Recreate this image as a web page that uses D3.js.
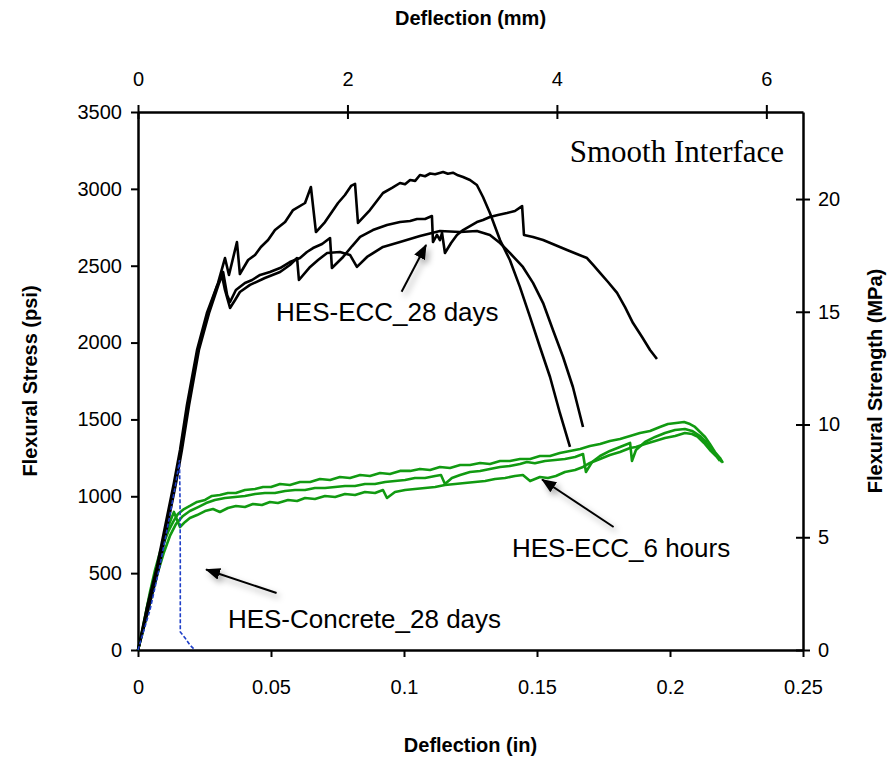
<!DOCTYPE html>
<html>
<head>
<meta charset="utf-8">
<script src="https://cdn.jsdelivr.net/npm/d3@7"></script>
<style>
  body { margin: 0; background: #fff; }
  svg text { font-family: "Liberation Sans", Arial, sans-serif; }
  svg text.serif { font-family: "Liberation Serif", "Times New Roman", serif; }
</style>
</head>
<body>
<div id="chart"></div>
<script>
// chart size
const width = 893;
const height = 765;
const margin = { top: 112, right: 90, bottom: 115, left: 138 };
const W = width - margin.left - margin.right;
const H = height - margin.top - margin.bottom;

// tick values
const xTicks = [0, 0.05, 0.1, 0.15, 0.2, 0.25];
const xTopTicks = [0, 2, 4, 6];
const yTicks = [0, 500, 1000, 1500, 2000, 2500, 3000, 3500];
const yRightTicks = [0, 5, 10, 15, 20];

// HES-ECC_28 days, three specimens [deflection in, stress psi]
const ecc28a = [
  [0, 0], [0.0038, 280], [0.0075, 540], [0.0113, 865], [0.0139, 1086], [0.0162, 1301],
  [0.0188, 1594], [0.0226, 1952], [0.0263, 2192], [0.0301, 2388], [0.0327, 2550],
  [0.0342, 2440], [0.0372, 2654], [0.0383, 2446], [0.0414, 2537], [0.044, 2570],
  [0.0462, 2622], [0.0489, 2667], [0.0515, 2732], [0.0553, 2784], [0.0583, 2862],
  [0.0628, 2908], [0.065, 3012], [0.0669, 2719], [0.0703, 2784], [0.0752, 2908],
  [0.0778, 2960], [0.0801, 3019], [0.0816, 3032], [0.0827, 2778], [0.0872, 2862],
  [0.0921, 2973], [0.0955, 3006], [0.0985, 3038], [0.1004, 3030], [0.1023, 3058],
  [0.1042, 3052], [0.106, 3090], [0.1079, 3082], [0.1098, 3100], [0.1117, 3095],
  [0.1147, 3110], [0.1165, 3098], [0.1184, 3105], [0.1203, 3088], [0.1222, 3077],
  [0.1248, 3058], [0.1274, 3025], [0.1297, 2947], [0.1323, 2843], [0.1361, 2667],
  [0.1398, 2537], [0.1436, 2361], [0.1474, 2166], [0.1511, 1971], [0.1549, 1776],
  [0.1586, 1542], [0.1624, 1321]
];
const ecc28b = [
  [0, 0], [0.0041, 280], [0.0079, 540], [0.0117, 865], [0.0143, 1086], [0.0165, 1301],
  [0.0192, 1594], [0.0229, 1952], [0.0267, 2192], [0.0305, 2388], [0.032, 2459],
  [0.0335, 2310], [0.0346, 2264], [0.0368, 2342], [0.0402, 2388], [0.0429, 2407],
  [0.0459, 2440], [0.0496, 2459], [0.0534, 2485], [0.0571, 2524], [0.0609, 2550],
  [0.0635, 2589], [0.0658, 2615], [0.0692, 2641], [0.0722, 2680], [0.0729, 2485],
  [0.0771, 2557], [0.0805, 2628], [0.0835, 2687], [0.0883, 2732], [0.0936, 2765],
  [0.0985, 2784], [0.1023, 2791], [0.1049, 2804], [0.1079, 2804], [0.1105, 2823],
  [0.1109, 2654], [0.1124, 2700], [0.1135, 2667], [0.1143, 2713], [0.1154, 2583],
  [0.1177, 2648], [0.1199, 2700], [0.1222, 2732], [0.1248, 2758], [0.1274, 2784],
  [0.1297, 2797], [0.1323, 2817], [0.1353, 2830], [0.1387, 2843], [0.1417, 2856],
  [0.1444, 2888], [0.1451, 2700], [0.1485, 2687], [0.1523, 2667], [0.1568, 2635],
  [0.1613, 2602], [0.165, 2576], [0.1688, 2550], [0.1711, 2505], [0.1737, 2453],
  [0.1767, 2394], [0.1801, 2323], [0.1831, 2231], [0.1861, 2127], [0.1895, 2036],
  [0.1925, 1952], [0.1951, 1893]
];
const ecc28c = [
  [0, 0], [0.0034, 280], [0.0071, 540], [0.0109, 865], [0.0135, 1086], [0.0158, 1301],
  [0.0184, 1594], [0.0222, 1952], [0.0259, 2192], [0.0297, 2368], [0.0316, 2433],
  [0.0327, 2342], [0.0346, 2225], [0.0365, 2277], [0.0383, 2329], [0.0421, 2375],
  [0.0477, 2420], [0.0534, 2459], [0.0571, 2505], [0.0598, 2550], [0.0605, 2407],
  [0.0647, 2492], [0.0677, 2537], [0.0711, 2583], [0.0759, 2589], [0.0797, 2570],
  [0.0823, 2492], [0.0861, 2557], [0.0921, 2622], [0.0985, 2654], [0.106, 2693],
  [0.1135, 2726], [0.1211, 2719], [0.1274, 2726], [0.1323, 2700], [0.1361, 2648],
  [0.1398, 2583], [0.1447, 2492], [0.1485, 2388], [0.1523, 2257], [0.156, 2082],
  [0.1598, 1906], [0.1635, 1711], [0.1673, 1451]
];

// HES-ECC_6 hours, three specimens
const ecc6a = [
  [0, 0], [0.0019, 143], [0.0038, 306], [0.0056, 442], [0.0075, 572], [0.0094, 683],
  [0.0113, 768], [0.0132, 833], [0.015, 885], [0.0173, 917], [0.0195, 937], [0.0222, 963],
  [0.0252, 976], [0.0278, 1002], [0.0308, 1008], [0.0338, 1021], [0.0368, 1021],
  [0.0402, 1041], [0.044, 1047], [0.047, 1060], [0.05, 1060], [0.0534, 1080], [0.0571, 1073],
  [0.0609, 1093], [0.0647, 1093], [0.0684, 1112], [0.0722, 1106], [0.0759, 1125],
  [0.0797, 1119], [0.0835, 1138], [0.0872, 1132], [0.091, 1151], [0.0947, 1145],
  [0.0985, 1165], [0.1023, 1165], [0.106, 1178], [0.1098, 1171], [0.1135, 1191],
  [0.1173, 1184], [0.1211, 1204], [0.1248, 1204], [0.1286, 1217], [0.1323, 1210],
  [0.1361, 1230], [0.1398, 1230], [0.1436, 1243], [0.1474, 1243], [0.1511, 1262],
  [0.1549, 1262], [0.1586, 1282], [0.1624, 1295], [0.1662, 1308], [0.1699, 1327],
  [0.1737, 1340], [0.1774, 1360], [0.1812, 1373], [0.185, 1392], [0.1887, 1412],
  [0.1925, 1425], [0.1962, 1451], [0.1992, 1470], [0.2023, 1477], [0.2053, 1483],
  [0.2075, 1470], [0.2094, 1451], [0.2113, 1418], [0.2132, 1386], [0.215, 1340],
  [0.2169, 1288], [0.2188, 1249], [0.2199, 1217]
];
const ecc6b = [
  [0, 0], [0.0015, 117], [0.003, 247], [0.0045, 377], [0.0064, 520], [0.0083, 638],
  [0.0102, 735], [0.012, 833], [0.0135, 898], [0.0147, 846], [0.0158, 800], [0.0177, 833],
  [0.0195, 859], [0.0222, 878], [0.0252, 904], [0.0282, 917], [0.0308, 898], [0.0338, 924],
  [0.0368, 937], [0.0402, 930], [0.0432, 950], [0.0466, 943], [0.0496, 963], [0.0526, 956],
  [0.0564, 976], [0.0598, 969], [0.0628, 989], [0.0665, 982], [0.0703, 1002], [0.0741, 995],
  [0.0778, 1015], [0.0816, 1008], [0.0853, 1028], [0.0891, 1021], [0.0921, 1041],
  [0.0936, 989], [0.0966, 1028], [0.1004, 1041], [0.1041, 1047], [0.1079, 1054],
  [0.1117, 1060], [0.1154, 1073], [0.1192, 1080], [0.1229, 1086], [0.1267, 1093],
  [0.1305, 1099], [0.1342, 1112], [0.138, 1119], [0.1417, 1132], [0.1447, 1138],
  [0.1474, 1099], [0.1511, 1125], [0.1541, 1119], [0.1571, 1132], [0.1605, 1158],
  [0.1643, 1171], [0.1673, 1191], [0.1699, 1217], [0.1737, 1243], [0.1774, 1269],
  [0.1812, 1288], [0.185, 1314], [0.1872, 1321], [0.1906, 1340], [0.1944, 1360],
  [0.1981, 1379], [0.2019, 1392], [0.2056, 1412], [0.2083, 1405], [0.2105, 1386],
  [0.2128, 1347], [0.215, 1301], [0.2173, 1262], [0.2188, 1230]
];
const ecc6c = [
  [0, 0], [0.0015, 98], [0.0034, 234], [0.0053, 364], [0.0075, 507], [0.0098, 638],
  [0.012, 742], [0.0143, 820], [0.0169, 872], [0.0195, 904], [0.0226, 930], [0.0256, 956],
  [0.0289, 976], [0.0327, 989], [0.0365, 995], [0.0402, 1002], [0.044, 1015], [0.0477, 1021],
  [0.0515, 1021], [0.0553, 1034], [0.059, 1041], [0.0628, 1041], [0.0665, 1054],
  [0.0703, 1054], [0.0741, 1060], [0.0778, 1067], [0.0816, 1067], [0.0853, 1080],
  [0.0891, 1080], [0.0929, 1093], [0.0966, 1099], [0.1004, 1106], [0.1041, 1119],
  [0.1079, 1119], [0.1117, 1132], [0.1139, 1138], [0.1154, 1080], [0.118, 1119],
  [0.1211, 1138], [0.1248, 1158], [0.1286, 1165], [0.1323, 1178], [0.1361, 1191],
  [0.1398, 1197], [0.1436, 1210], [0.1462, 1223], [0.1492, 1215], [0.153, 1230],
  [0.1568, 1236], [0.1605, 1243], [0.1643, 1256], [0.1673, 1275], [0.1684, 1158],
  [0.1707, 1223], [0.1737, 1262], [0.1774, 1295], [0.1812, 1321], [0.1831, 1334],
  [0.185, 1347], [0.1857, 1230], [0.1872, 1301], [0.1906, 1353], [0.1944, 1386],
  [0.1981, 1412], [0.2019, 1431], [0.2056, 1438], [0.2083, 1425], [0.2113, 1392],
  [0.2135, 1353], [0.2158, 1301], [0.218, 1256], [0.2195, 1223]
];

// HES-Concrete_28 days
const concrete28 = [
  [0, 0], [0.0045, 260], [0.0083, 553], [0.012, 878], [0.0143, 1093], [0.0156, 1236],
  [0.0158, 976], [0.0159, 585], [0.0159, 117], [0.0177, 78], [0.0195, 33], [0.0214, 0]
];

const svg = d3
  .select("#chart")
  .append("svg")
  .attr("width", width)
  .attr("height", height);

const defs = svg.append("defs");
defs
  .append("filter")
  .attr("id", "shadow")
  .attr("x", "-50%").attr("y", "-50%")
  .attr("width", "200%").attr("height", "200%")
  .append("feDropShadow")
  .attr("dx", 3).attr("dy", 4)
  .attr("stdDeviation", 3)
  .attr("flood-color", "#000")
  .attr("flood-opacity", 0.35);
defs
  .append("marker")
  .attr("id", "head")
  .attr("markerUnits", "userSpaceOnUse")
  .attr("markerWidth", 16).attr("markerHeight", 14)
  .attr("refX", 14).attr("refY", 6)
  .attr("orient", "auto")
  .append("path")
  .attr("d", "M0,0L15,6L0,12Z")
  .attr("fill", "#000");

const g = svg.append("g").attr("transform", `translate(${margin.left},${margin.top})`);

const x = d3.scaleLinear().domain([0, 0.25]).range([0, W]);
const xTop = d3.scaleLinear().domain([0, 0.25 * 25.4]).range([0, W]);
const y = d3.scaleLinear().domain([0, 3500]).range([H, 0]);
const yRight = d3.scaleLinear().domain([0, 23.86]).range([H, 0]);

const fmt = d3.format("~g");

function styleAxis(sel) {
  sel.select(".domain").attr("stroke", "#000").attr("stroke-width", 2.5);
  sel.selectAll(".tick line").attr("stroke", "#000").attr("stroke-width", 2);
  sel.selectAll(".tick text").attr("font-size", 20).attr("fill", "#000");
}

g.append("g")
  .attr("transform", `translate(0,${H})`)
  .call(d3.axisBottom(x).tickValues(xTicks).tickFormat(fmt).tickSize(7).tickSizeOuter(0).tickPadding(23))
  .call(styleAxis);

g.append("g")
  .call(d3.axisLeft(y).tickValues(yTicks).tickFormat(fmt).tickSize(7).tickSizeOuter(0).tickPadding(9))
  .call(styleAxis);

g.append("g")
  .call(d3.axisTop(xTop).tickValues(xTopTicks).tickFormat(fmt).tickSize(7).tickSizeOuter(0).tickPadding(19))
  .call(styleAxis)
  .call((a) => a.selectAll(".tick line").attr("y1", 7));

g.append("g")
  .attr("transform", `translate(${W},0)`)
  .call(d3.axisRight(yRight).tickValues(yRightTicks).tickFormat(fmt).tickSize(7).tickSizeOuter(0).tickPadding(8))
  .call(styleAxis)
  .call((a) => a.selectAll(".tick line").attr("x1", -7));

// axis titles
svg.append("text")
  .attr("x", margin.left + W / 2).attr("y", 25)
  .attr("text-anchor", "middle").attr("font-size", 20).attr("font-weight", "bold")
  .text("Deflection (mm)");
svg.append("text")
  .attr("x", margin.left + W / 2).attr("y", 752)
  .attr("text-anchor", "middle").attr("font-size", 20).attr("font-weight", "bold")
  .text("Deflection (in)");
svg.append("text")
  .attr("transform", `translate(37,${margin.top + H / 2}) rotate(-90)`)
  .attr("text-anchor", "middle").attr("font-size", 20).attr("font-weight", "bold")
  .text("Flexural Stress (psi)");
svg.append("text")
  .attr("transform", `translate(882,${margin.top + H / 2}) rotate(-90)`)
  .attr("text-anchor", "middle").attr("font-size", 20).attr("font-weight", "bold")
  .text("Flexural Strength (MPa)");

const line = d3.line().x((d) => x(d[0])).y((d) => y(d[1]));

// green 6 hour curves
[ecc6a, ecc6b, ecc6c].forEach((s) => {
  g.append("path")
    .datum(s)
    .attr("d", line)
    .attr("fill", "none")
    .attr("stroke", "#119a11")
    .attr("stroke-width", 2.6)
    .attr("stroke-linejoin", "round");
});

// black 28 day curves
[ecc28a, ecc28b, ecc28c].forEach((s) => {
  g.append("path")
    .datum(s)
    .attr("d", line)
    .attr("fill", "none")
    .attr("stroke", "#000")
    .attr("stroke-width", 2.6)
    .attr("stroke-linejoin", "round");
});

// concrete dashed
g.append("path")
  .datum(concrete28)
  .attr("d", line)
  .attr("fill", "none")
  .attr("stroke", "#1f3fc8")
  .attr("stroke-width", 1.6)
  .attr("stroke-dasharray", "4,2");

// labels and arrows
const notes = [
  { text: "HES-ECC_28 days", tx: 0.0519, ty: 2140, from: [0.0991, 2331], to: [0.1083, 2635] },
  { text: "HES-ECC_6 hours", tx: 0.1406, ty: 605, from: [0.1788, 800], to: [0.1519, 1109] },
  { text: "HES-Concrete_28 days", tx: 0.0338, ty: 143, from: [0.0521, 371], to: [0.0256, 524] }
];

notes.forEach((n) => {
  g.append("line")
    .attr("x1", x(n.from[0])).attr("y1", y(n.from[1]))
    .attr("x2", x(n.to[0])).attr("y2", y(n.to[1]))
    .attr("stroke", "#000")
    .attr("stroke-width", 2)
    .attr("marker-end", "url(#head)")
    .attr("filter", "url(#shadow)");
  g.append("text")
    .attr("x", x(n.tx)).attr("y", y(n.ty))
    .attr("font-size", 26)
    .text(n.text);
});

g.append("text")
  .attr("class", "serif")
  .attr("x", x(0.2429)).attr("y", y(3175))
  .attr("text-anchor", "end")
  .attr("font-size", 31)
  .text("Smooth Interface");
</script>
</body>
</html>
